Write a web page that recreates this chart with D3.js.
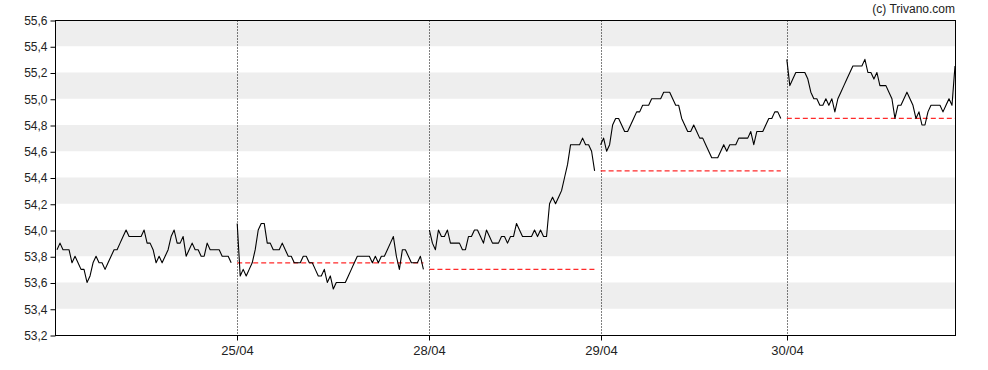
<!DOCTYPE html>
<html><head><meta charset="utf-8">
<script src="https://cdn.jsdelivr.net/npm/d3@7"></script>
<style>body{margin:0;background:#fff}svg{display:block;font-family:"Liberation Sans",Arial,sans-serif}</style>
</head><body>
<svg id="chart" width="988" height="370"></svg>
<script>
// ---- data ----
const dayLabels = ["24/04", "25/04", "28/04", "29/04", "30/04"];
const daySlots = [60, 64, 57, 62, 56]; // session length in time slots
const day1 = [53.85,53.90,53.85,53.85,53.85,53.75,53.80,53.75,53.70,53.70,53.60,53.65,53.75,53.80,53.75,53.75,53.70,53.75,53.80,53.85,
  53.85,53.90,53.95,54.00,53.95,53.95,53.95,53.95,53.95,54.00,53.90,53.90,53.85,53.75,53.80,53.75,53.80,53.85,53.95,54.00,
  53.90,53.90,53.95,53.80,53.85,53.90,53.85,53.85,53.80,53.80,53.90,53.85,53.85,53.85,53.85,53.80,53.80,53.80,53.75];
const day2 = [54.05,53.65,53.70,53.65,53.70,53.75,53.85,54.00,54.05,54.05,53.90,53.90,53.85,53.85,53.85,53.90,53.85,53.80,53.80,53.75,
  53.75,53.75,53.80,53.80,53.75,53.75,53.70,53.65,53.65,53.70,53.60,53.65,53.55,53.60,53.60,53.60,53.60,53.65,53.70,53.75,
  53.80,53.80,53.80,53.80,53.80,53.75,53.80,53.75,53.80,53.80,53.85,53.90,53.95,53.80,53.70,53.85,53.85,53.80,53.75,53.75,
  53.75,53.80,53.70];
const day3 = [54.00,53.90,53.85,54.00,53.95,53.95,54.00,53.90,53.90,53.90,53.90,53.85,53.85,53.95,53.95,54.00,54.00,53.95,53.90,54.00,
  53.95,53.90,53.90,53.90,53.95,53.95,53.90,53.95,53.95,54.05,54.00,53.95,53.95,53.95,53.95,54.00,53.95,54.00,53.95,53.95,
  54.20,54.25,54.20,54.25,54.30,54.40,54.50,54.65,54.65,54.65,54.65,54.70,54.65,54.65,54.60,54.45];
const day4 = [54.65,54.70,54.60,54.65,54.80,54.85,54.85,54.80,54.75,54.75,54.80,54.85,54.90,54.90,54.95,54.95,54.95,55.00,55.00,55.00,
  55.00,55.05,55.05,55.05,55.00,54.95,54.95,54.85,54.80,54.75,54.75,54.80,54.75,54.70,54.70,54.65,54.60,54.55,54.55,54.55,
  54.60,54.65,54.60,54.65,54.65,54.65,54.70,54.70,54.70,54.70,54.75,54.65,54.75,54.75,54.75,54.80,54.85,54.85,54.90,54.90,
  54.85];
const day5 = [55.30,55.10,55.15,55.20,55.20,55.20,55.20,55.15,55.05,55.00,55.00,54.95,54.95,55.00,54.95,55.00,54.90,55.00,55.05,55.10,
  55.15,55.20,55.25,55.25,55.25,55.25,55.30,55.20,55.20,55.15,55.20,55.10,55.10,55.10,55.05,55.00,54.85,54.95,54.95,55.00,
  55.05,55.00,54.95,54.85,54.90,54.80,54.80,54.90,54.95,54.95,54.95,54.95,54.90,54.95,55.00,54.95,55.25];
const prevClose = [null, 53.75, 53.70, 54.45, 54.85];
const yTicks = [53.2, 53.4, 53.6, 53.8, 54.0, 54.2, 54.4, 54.6, 54.8, 55.0, 55.2, 55.4, 55.6];
const credit = "(c) Trivano.com";

// ---- chart ----
const days = [day1, day2, day3, day4, day5];
const dayStart = [];
let acc = 0;
daySlots.forEach(n => { dayStart.push(acc); acc += n; });
const total = acc;

const svg = d3.select("#chart");
const L = 55.5, R = 955.5, T = 20.5, B = 335.5;
const x = d3.scaleLinear().domain([0, total]).range([57, 955]);
const y = d3.scaleLinear().domain([53.2, 55.6]).range([335, 20]);
const snap = v => Math.round(v) + 0.5;

// bands
const bandPairs = [];
for (let i = 1; i < yTicks.length; i += 2) bandPairs.push([yTicks[i], yTicks[i + 1]]);
svg.append("g").selectAll("rect").data(bandPairs).join("rect")
  .attr("x", L).attr("width", R - L)
  .attr("y", d => y(d[1])).attr("height", d => y(d[0]) - y(d[1]))
  .attr("fill", "#eeeeee");

// day separators
const sepIdx = dayStart.slice(1);
svg.append("g").selectAll("line").data(sepIdx).join("line")
  .attr("x1", d => snap(x(d))).attr("x2", d => snap(x(d)))
  .attr("y1", T).attr("y2", B)
  .attr("stroke", "#000").attr("stroke-width", 1).attr("stroke-dasharray", "1,2");

// previous close reference lines
svg.append("g").selectAll("line").data(days.map((d, i) => ({i, v: prevClose[i], n: d.length})).filter(d => d.v != null))
  .join("line")
  .attr("x1", d => x(dayStart[d.i])).attr("x2", d => x(dayStart[d.i] + d.n - 1))
  .attr("y1", d => y(d.v)).attr("y2", d => y(d.v))
  .attr("stroke", "#ff2a2a").attr("stroke-width", 1.2).attr("stroke-dasharray", "5,3");

// price lines
const line = d3.line().x(d => x(d[0])).y(d => y(d[1]));
svg.append("g").selectAll("path").data(days.map((d, i) => d.map((v, j) => [dayStart[i] + j, v])))
  .join("path")
  .attr("d", line).attr("fill", "none").attr("stroke", "#000").attr("stroke-width", 1.1)
  .attr("stroke-linejoin", "round");

// frame
svg.append("rect").attr("x", L).attr("y", T).attr("width", R - L).attr("height", B - T)
  .attr("fill", "none").attr("stroke", "#000").attr("stroke-width", 1);

// y axis
const yAxis = d3.axisLeft(y).tickValues(yTicks).tickSize(5).tickPadding(3)
  .tickFormat(d => d3.format(".1f")(d).replace(".", ","));
const gy = svg.append("g").attr("transform", `translate(${L},0.5)`).call(yAxis);
gy.select(".domain").remove();
gy.selectAll("text").attr("font-size", 12).attr("fill", "#222").attr("font-family", "Liberation Sans, Arial, sans-serif");

// x axis
const xAxis = d3.axisBottom(x).tickValues(sepIdx).tickSize(5).tickPadding(5)
  .tickFormat((d, i) => dayLabels[i + 1]);
const gx = svg.append("g").attr("transform", `translate(0,${B})`).call(xAxis);
gx.select(".domain").remove();
gx.selectAll(".tick").attr("transform", d => `translate(${snap(x(d))},0)`);
gx.selectAll("text").attr("font-size", 13).attr("fill", "#222").attr("font-family", "Liberation Sans, Arial, sans-serif");

// credit
svg.append("text").attr("x", 955).attr("y", 13).attr("text-anchor", "end")
  .attr("font-size", 12).attr("fill", "#222").text(credit);
</script>
</body></html>
